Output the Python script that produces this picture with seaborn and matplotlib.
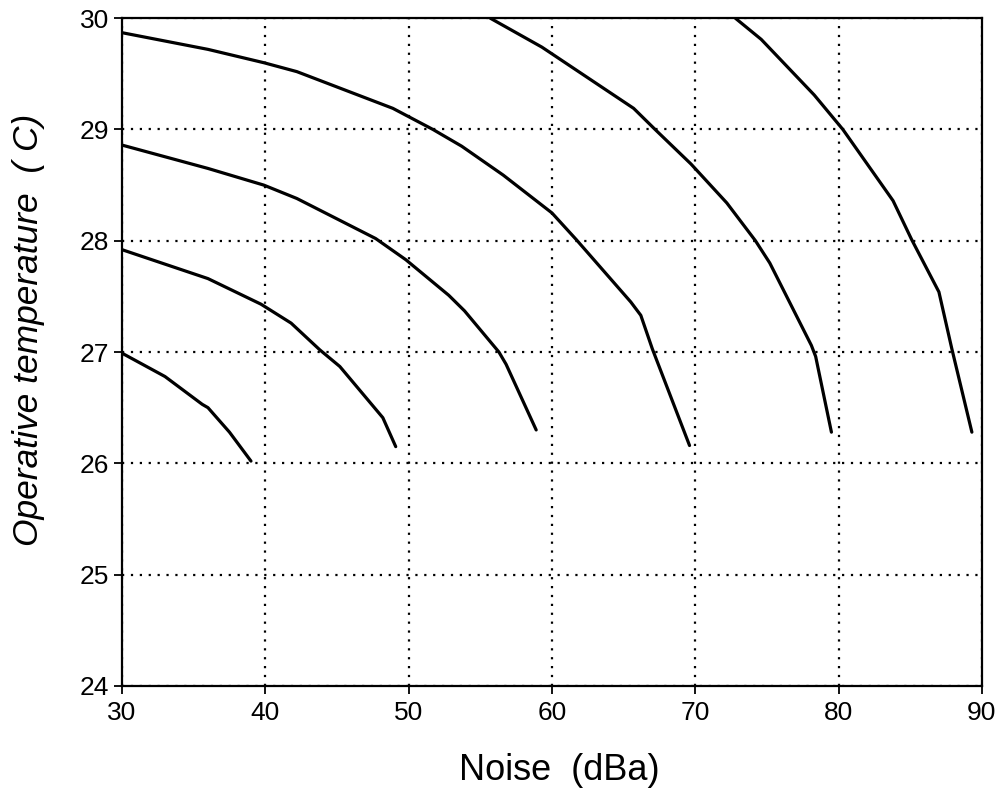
import matplotlib
matplotlib.use("Agg")
import matplotlib.pyplot as plt
import seaborn as sns
import pandas as pd

# Curve data (Noise dBa, Operative temperature C)
noise_1 = [30.0, 33.0, 35.6, 36.0, 37.5, 39.0]
temp_1 = [26.99, 26.78, 26.53, 26.50, 26.28, 26.02]

noise_2 = [30.0, 36.0, 39.7, 41.8, 43.8, 45.2, 48.2, 49.1]
temp_2 = [27.92, 27.66, 27.43, 27.26, 27.02, 26.87, 26.41, 26.15]

noise_3 = [30.0, 36.0, 39.9, 42.2, 47.7, 49.8, 52.8, 53.9, 56.3, 56.8, 58.9]
temp_3 = [28.86, 28.65, 28.50, 28.38, 28.02, 27.83, 27.51, 27.37, 27.00, 26.89, 26.30]

noise_4 = [30.0, 36.0, 39.9, 42.2, 48.9, 51.7, 53.7, 56.6, 60.0, 61.7, 65.5, 66.2, 67.0, 69.6]
temp_4 = [29.87, 29.72, 29.60, 29.52, 29.19, 29.00, 28.85, 28.59, 28.25, 28.01, 27.45, 27.33, 27.03, 26.16]

noise_5 = [55.7, 59.3, 65.7, 67.2, 69.7, 72.2, 74.2, 75.2, 78.1, 78.4, 79.5]
temp_5 = [30.0, 29.74, 29.19, 29.00, 28.69, 28.34, 28.00, 27.80, 27.06, 26.96, 26.28]

noise_6 = [72.8, 74.6, 78.3, 80.3, 83.8, 85.1, 87.0, 87.9, 89.3]
temp_6 = [30.0, 29.81, 29.31, 29.00, 28.36, 28.01, 27.54, 27.03, 26.28]

x_ticks = [30, 40, 50, 60, 70, 80, 90]
y_ticks = [24, 25, 26, 27, 28, 29, 30]

curves = [(noise_1, temp_1), (noise_2, temp_2), (noise_3, temp_3),
          (noise_4, temp_4), (noise_5, temp_5), (noise_6, temp_6)]
frames = []
for i, (xs, ys) in enumerate(curves):
    frames.append(pd.DataFrame({"noise": xs, "temp": ys, "curve": f"c{i+1}"}))
df = pd.concat(frames, ignore_index=True)

sns.set_style("white")
plt.rcParams["font.family"] = ["Liberation Sans", "DejaVu Sans"]

fig = plt.figure(figsize=(10.04, 7.92), dpi=100)
ax = fig.add_axes([0.1215, 0.134, 0.8565, 0.843])

sns.lineplot(data=df, x="noise", y="temp", hue="curve",
             palette=["black"] * 6, linewidth=2.3, sort=False,
             estimator=None, legend=False, ax=ax)

ax.set_xlim(30, 90)
ax.set_ylim(24, 30)
ax.set_xticks(x_ticks)
ax.set_yticks(y_ticks)
ax.set_xticklabels([str(t) for t in x_ticks], fontsize=19)
ax.set_yticklabels([str(t) for t in y_ticks], fontsize=19)

ax.grid(True, color="black", linestyle=(0, (1, 3)), linewidth=1.6)
ax.set_axisbelow(True)
for s in ax.spines.values():
    s.set_color("black")
    s.set_linewidth(1.6)

ax.tick_params(axis="both", direction="out", length=6, width=1.3,
               color="black", labelcolor="black", pad=3,
               bottom=True, left=True, top=False, right=False)
ax.tick_params(axis="x", pad=5)

ax.set_xlabel("Noise  (dBa)", fontsize=26, color="black")
ax.set_ylabel("Operative temperature  ( C)", fontsize=25.5, style="italic",
              color="black")
ax.xaxis.set_label_coords(0.509, -0.1)
ax.yaxis.set_label_coords(-0.09, 0.533)

fig.savefig("out.png", dpi=100, facecolor="white")
